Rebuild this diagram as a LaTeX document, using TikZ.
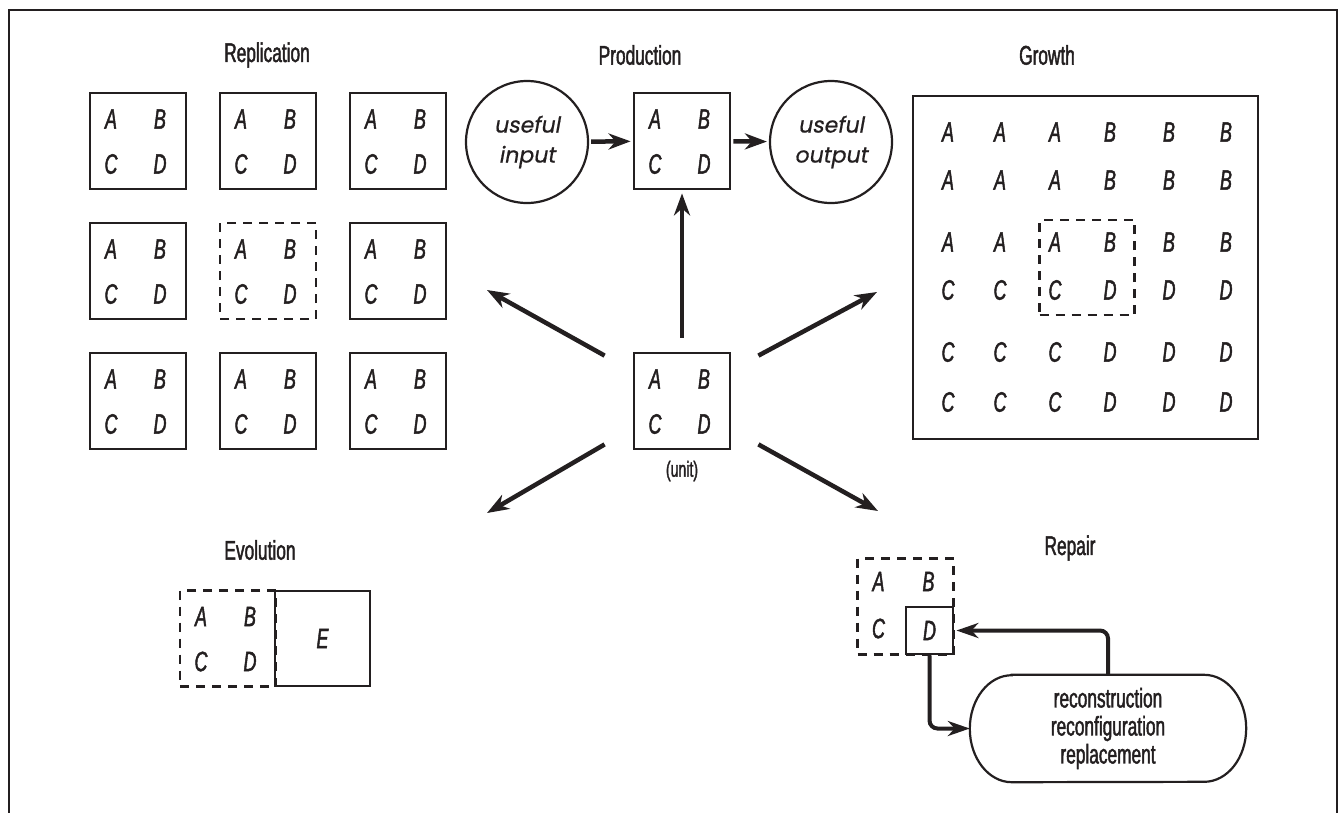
\documentclass[tikz,border=0pt]{standalone}
\usepackage{fontspec}
\setmainfont{Liberation Sans}[FakeStretch=0.64, FakeBold=1.6]
\newfontfamily\roundfont{Poppins}[FakeSlant=0.18, FakeBold=0.6]
\usetikzlibrary{arrows.meta, positioning, calc}
\definecolor{ink}{RGB}{35,31,32}

% the four letters of a unit, placed round its centre
\newcommand\abcd[1]{%
  \node[ltr] at ([shift={(-27,-22)}]#1.center) {A};
  \node[ltr] at ([shift={(22,-22)}]#1.center)  {B};
  \node[ltr] at ([shift={(-27,23)}]#1.center)  {C};
  \node[ltr] at ([shift={(22,23)}]#1.center)   {D};}

\begin{document}
\begin{tikzpicture}[x=1pt, y=-1pt, color=ink,
  box/.style={draw, line width=2.8pt, minimum size=96pt, inner sep=0pt},
  dashbox/.style={box, dash pattern=on 9pt off 7pt},
  ltr/.style={font=\fontsize{28}{28}\selectfont\itshape, inner sep=0pt},
  title/.style={font=\fontsize{27}{27}\selectfont},
  circ/.style={draw, circle, line width=2.2pt, minimum size=122pt, inner sep=0pt,
    align=center, font=\roundfont\fontsize{22}{30}\selectfont},
  flow/.style={line width=4.5pt, -{Stealth[length=22pt, width=16pt, inset=7pt]}},
  loopflow/.style={line width=4pt, rounded corners=8pt,
    -{Stealth[length=22pt, width=15pt, inset=7pt]}}]
\useasboundingbox (0,0) rectangle (1338,812);

% ---- frame ----
\draw[line width=2.5pt] (9,830) -- (9,10) -- (1337,10) -- (1337,830);

% ---- replication ----
\node[title] (reptitle) at (267,55) {Replication};
\foreach \x/\y/\s in {138/141/box, 268/141/box, 398/141/box,
                      138/271/box, 268/271/dashbox, 398/271/box,
                      138/401/box, 268/401/box, 398/401/box} {
  \node[\s] (rep-\x-\y) at (\x,\y) {};
  \abcd{rep-\x-\y}
}

% ---- production ----
\node[title] (prodtitle) at (640,55) {Production};
\node[box] (prod) at (682,141) {};
\abcd{prod}
\node[circ] (input)  at (527,142) {useful\\input};
\node[circ] (output) at (831,142) {useful\\output};
\draw[flow, shorten <=2pt, shorten >=2pt] (input) -- (prod);
\draw[flow, shorten <=2pt, shorten >=2pt] (prod) -- (output);

% ---- unit ----
\node[box] (unit) at (682,401) {};
\abcd{unit}
\node[font=\fontsize{22}{22}\selectfont] (unitlbl) at (682,471) {(unit)};

\coordinate (toRep)    at (487,290);
\coordinate (toGrowth) at (877,292);
\coordinate (toEvo)    at (487,513);
\coordinate (toRepair) at (878,511);
\draw[flow, shorten <=14pt, shorten >=3pt] (unit) -- (prod);
\draw[flow] ([shift={(-28,4)}]unit.north west) -- (toRep);
\draw[flow] ([shift={(27,4)}]unit.north east)  -- (toGrowth);
\draw[flow] ([shift={(-28,-6)}]unit.south west) -- (toEvo);
\draw[flow] ([shift={(27,-6)}]unit.south east)  -- (toRepair);

% ---- growth ----
\node[title] (growtitle) at (1047,55) {Growth};
\node[draw, line width=2.8pt, minimum width=345pt, minimum height=343pt] (grid) at (1085.5,267.5) {};
\foreach \y/\a/\b in {132/A/B, 180/A/B, 242/A/B, 290/C/D, 352/C/D, 402/C/D} {
  \foreach \x in {948,1000,1055} \node[ltr] at (\x,\y) {\a};
  \foreach \x in {1110,1169,1226} \node[ltr] at (\x,\y) {\b};
}
\node[dashbox, minimum size=95pt] (core) at (1087,267.5) {};

% ---- evolution ----
\node[title] (evotitle) at (260,550) {Evolution};
\node[dashbox] (old) at (228,638.5) {};
\abcd{old}
\node[box, ltr, minimum size=95pt] (new) at (322.5,638.5) {E};

% ---- repair ----
\node[title] (reptitle2) at (1070,548) {Repair};
\node[dashbox] (part) at (905.5,606.5) {};
\node[ltr] at ([shift={(-27,-25)}]part.center) {A};
\node[ltr] at ([shift={(23,-25)}]part.center)  {B};
\node[ltr] at ([shift={(-27,22)}]part.center)  {C};
\node[box, ltr, minimum size=47pt] (dbox) at (929.5,630.5) {D};

\node[minimum width=276pt, minimum height=107pt, align=center,
  font=\fontsize{27}{28}\selectfont] (fix) at (1108,728.5)
  {reconstruction\\reconfiguration\\replacement};
\draw[line width=2.2pt] ([xshift=42pt]fix.north west) -- ([xshift=-42pt]fix.north east)
  arc[start angle=90, end angle=-90, x radius=42pt, y radius=53.5pt]
  -- ([xshift=42pt]fix.south west)
  arc[start angle=270, end angle=90, x radius=42pt, y radius=53.5pt] -- cycle;

\draw[loopflow, shorten >=2pt] (fix.north) |- (dbox.east);
\draw[loopflow] (dbox.south) |- (fix.west);
\end{tikzpicture}
\end{document}
